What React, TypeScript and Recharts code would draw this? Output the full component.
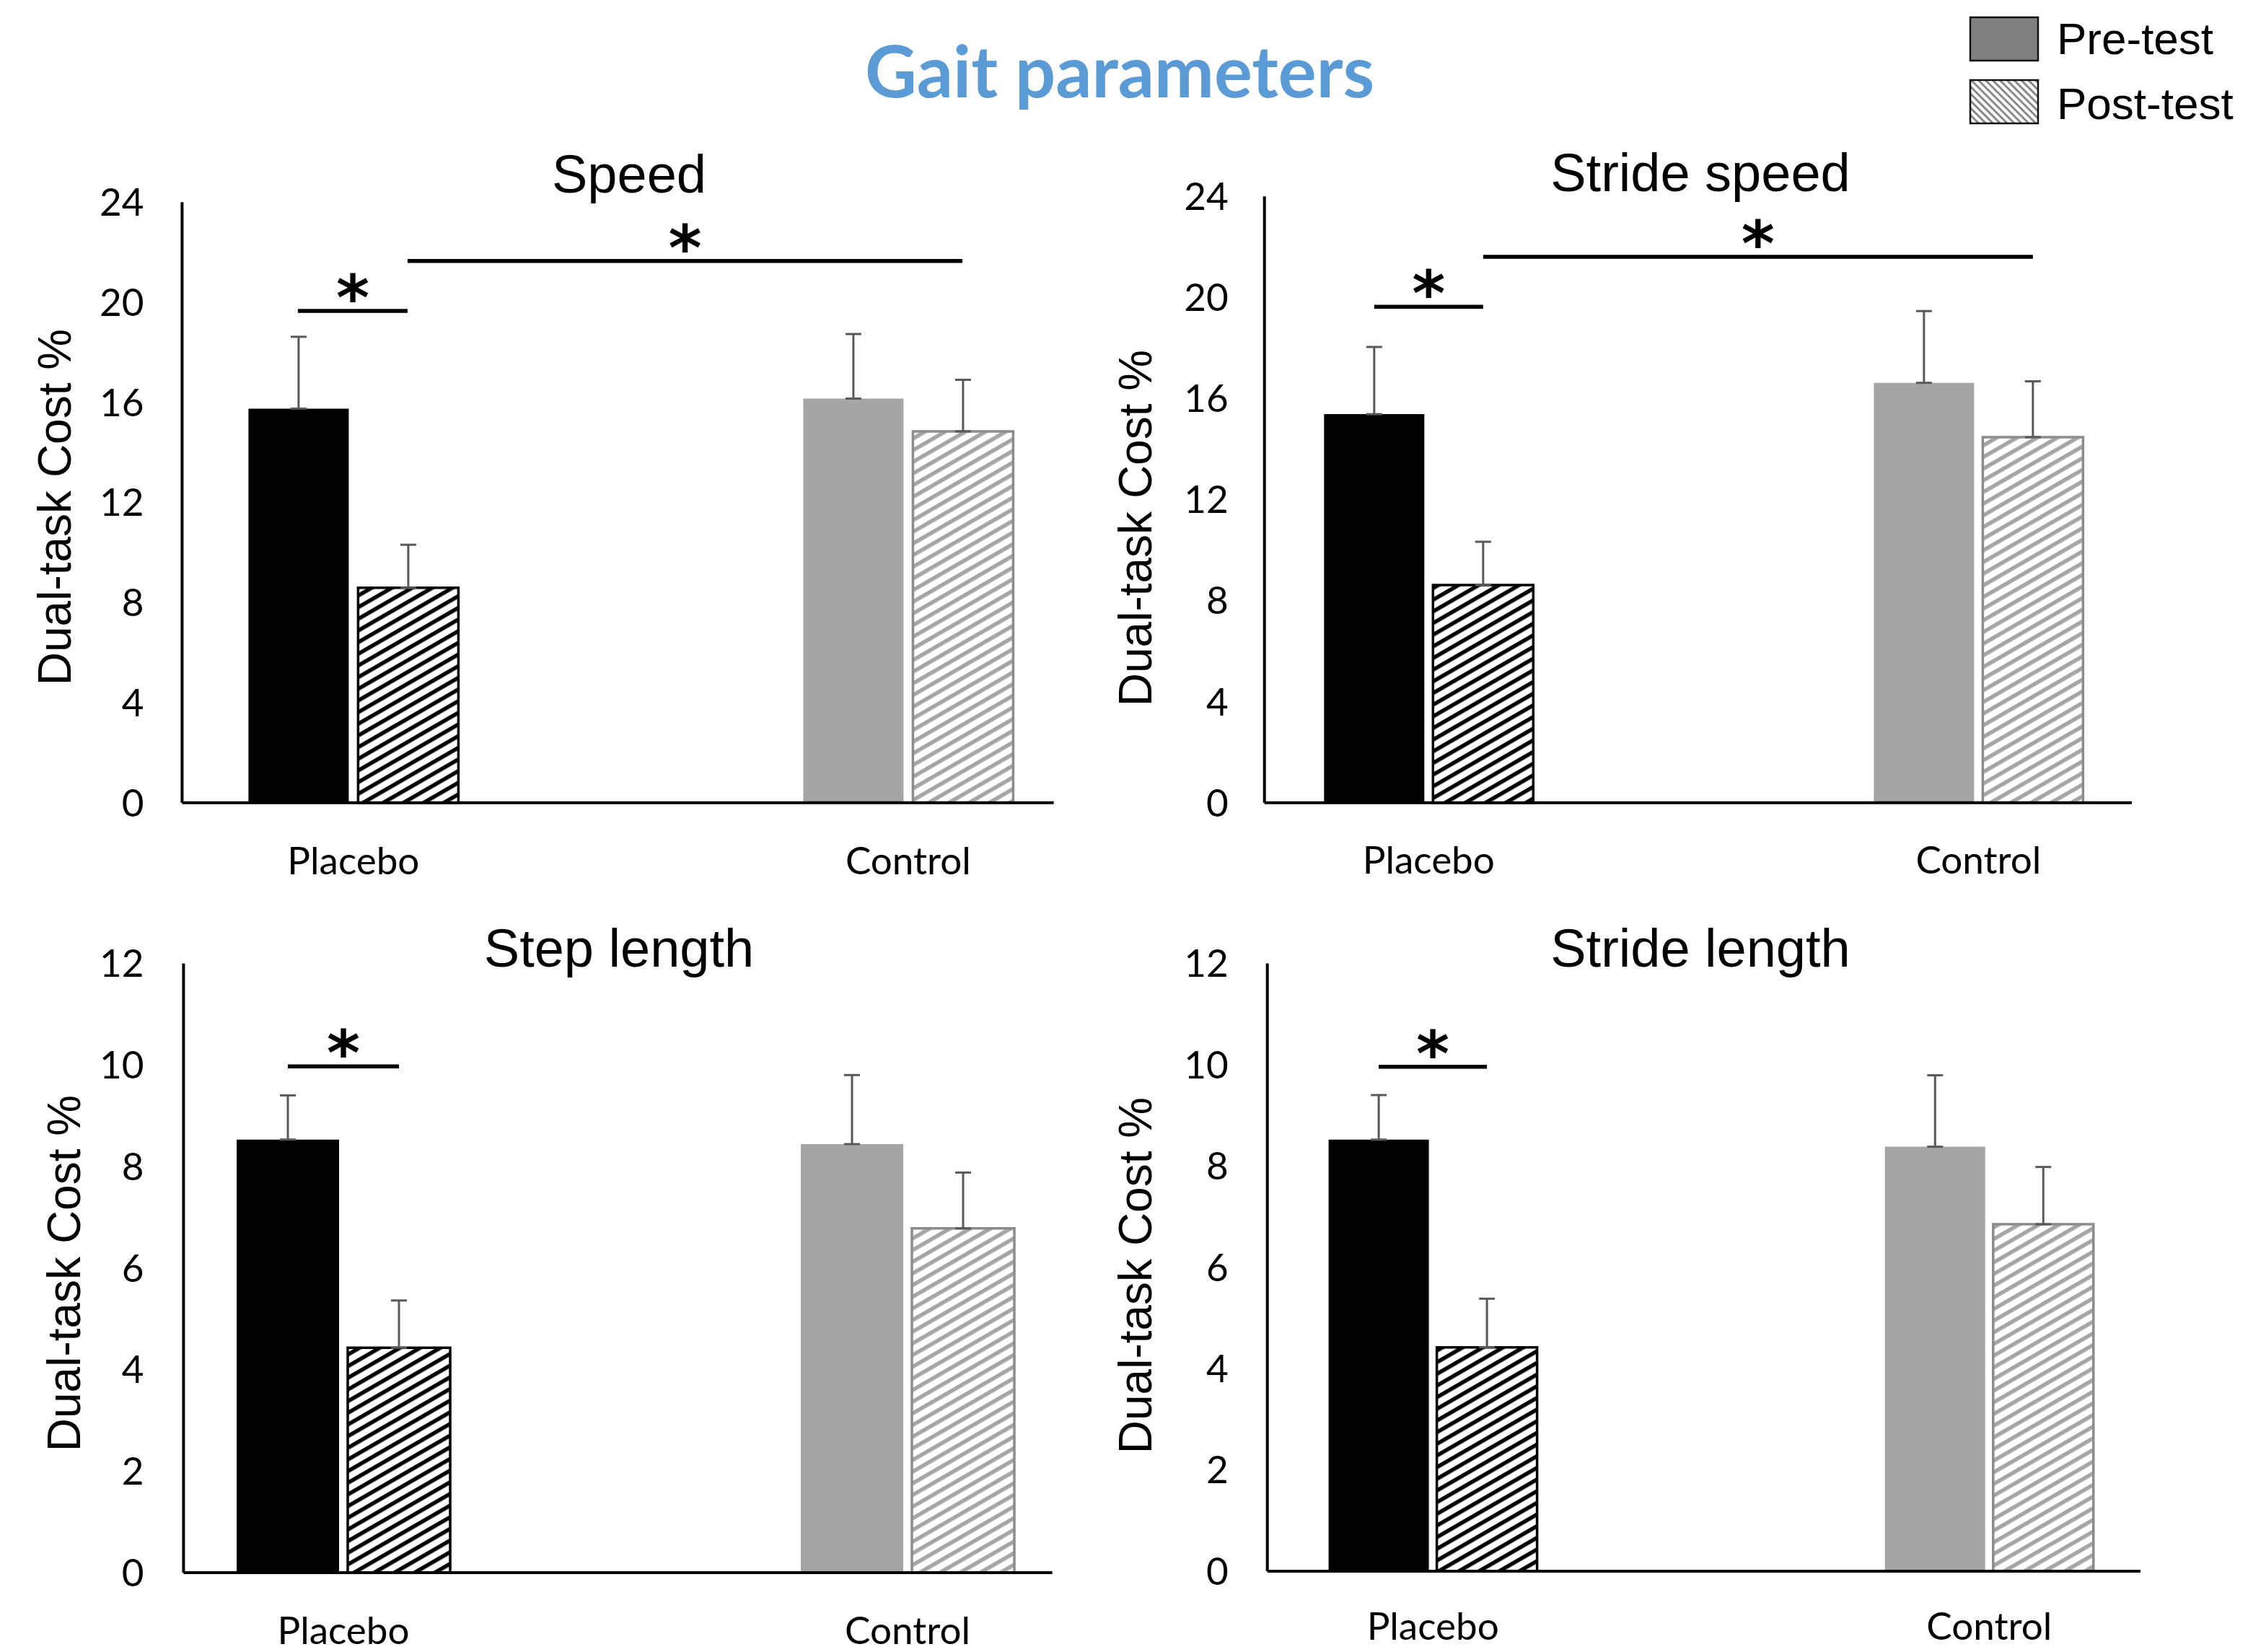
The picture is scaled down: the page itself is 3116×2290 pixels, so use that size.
import React from 'react';
import { BarChart, Bar, XAxis, YAxis, ErrorBar, Cell } from 'recharts';

const groups = ['Placebo', 'Control'];

// Speed
const speedPre = [15.75, 16.15];
const speedPreErr = [2.87, 2.58];
const speedPost = [8.59, 14.84];
const speedPostErr = [1.72, 2.06];

// Stride speed
const strideSpeedPre = [15.38, 16.62];
const strideSpeedPreErr = [2.66, 2.84];
const strideSpeedPost = [8.62, 14.47];
const strideSpeedPostErr = [1.71, 2.21];

// Step length
const stepLengthPre = [8.53, 8.44];
const stepLengthPreErr = [0.87, 1.36];
const stepLengthPost = [4.43, 6.78];
const stepLengthPostErr = [0.93, 1.1];

// Stride length
const strideLengthPre = [8.52, 8.38];
const strideLengthPreErr = [0.88, 1.41];
const strideLengthPost = [4.42, 6.85];
const strideLengthPostErr = [0.96, 1.13];

const speedTicks = [0, 4, 8, 12, 16, 20, 24];
const lengthTicks = [0, 2, 4, 6, 8, 10, 12];

// significance brackets: [group, series] -> [group, series] at height y
const speedSig = [
  { from: [0, 0], to: [0, 1], y: 19.65 },
  { from: [0, 1], to: [1, 1], y: 21.65 },
];
const strideSpeedSig = [
  { from: [0, 0], to: [0, 1], y: 19.63 },
  { from: [0, 1], to: [1, 1], y: 21.61 },
];
const stepLengthSig = [{ from: [0, 0], to: [0, 1], y: 9.97 }];
const strideLengthSig = [{ from: [0, 0], to: [0, 1], y: 9.96 }];

const preFill = ['#000000', '#A5A5A5'];
const postFill = ['url(#hatchBlack)', 'url(#hatchGray)'];
const postStroke = ['#000000', '#8C8C8C'];

const makeRows = (pre: number[], preErr: number[], post: number[], postErr: number[]) =>
  groups.map((name, i) => ({
    name,
    pre: pre[i],
    post: post[i],
    preErr: [0, preErr[i]],
    postErr: [0, postErr[i]],
  }));

const panels = [
  {
    title: 'Speed', rows: makeRows(speedPre, speedPreErr, speedPost, speedPostErr),
    ticks: speedTicks, sig: speedSig,
    left: 252.4, top: 280.2, right: 1460.6, bottom: 1112.8, padL: -147, padR: -182.8,
    barSize: 139, barGap: 13, tickGap: 53, catMargin: 62, box: [0, 220, 1540, 1080],
    labelX: 76, labelY: 703, titleX: 872, titleY: 267,
  },
  {
    title: 'Stride speed', rows: makeRows(strideSpeedPre, strideSpeedPreErr, strideSpeedPost, strideSpeedPostErr),
    ticks: speedTicks, sig: strideSpeedSig,
    left: 1752.7, top: 272.2, right: 2954.9, bottom: 1112.8, padL: -153.4, padR: -168.5,
    barSize: 139, barGap: 12, tickGap: 50, catMargin: 61, box: [1500, 220, 1600, 1080],
    labelX: 1574, labelY: 732, titleX: 2357, titleY: 265,
  },
  {
    title: 'Step length', rows: makeRows(stepLengthPre, stepLengthPreErr, stepLengthPost, stepLengthPostErr),
    ticks: lengthTicks, sig: stepLengthSig,
    left: 254.4, top: 1335.4, right: 1458.6, bottom: 2180, padL: -169.4, padR: -190.4,
    barSize: 142, barGap: 12, tickGap: 55, catMargin: 61, box: [0, 1280, 1540, 1010],
    labelX: 89, labelY: 1765, titleX: 858, titleY: 1340,
  },
  {
    title: 'Stride length', rows: makeRows(strideLengthPre, strideLengthPreErr, strideLengthPost, strideLengthPostErr),
    ticks: lengthTicks, sig: strideLengthSig,
    left: 1756.7, top: 1335.4, right: 2966.9, bottom: 2178, padL: -156.1, padR: -176,
    barSize: 139, barGap: 11, tickGap: 54, catMargin: 57, box: [1500, 1280, 1600, 1010],
    labelX: 1574, labelY: 1768, titleX: 2357, titleY: 1340,
  },
];

type P = typeof panels[number];

const X_AXIS_H = 100;
const tickFont = { fontFamily: 'Lato', fontSize: 53, fill: '#000' };
const arial = 'Liberation Sans, Arial, sans-serif';

const barCenter = (p: P, g: number, s: number) => {
  const start = p.left + p.padL;
  const band = (p.right - p.padR - start) / 2;
  const off = Math.floor((band - (2 * p.barSize + p.barGap)) / 2);
  return start + g * band + off + s * (p.barSize + p.barGap) + p.barSize / 2;
};
const yPix = (p: P, v: number) =>
  p.bottom - (v / p.ticks[p.ticks.length - 1]) * (p.bottom - p.top);

const Panel = ({ p }: { p: P }) => {
  const [cx, cy, cw, ch] = p.box;
  const yMax = p.ticks[p.ticks.length - 1];
  return (
    <div style={{ position: 'absolute', left: cx, top: cy, width: cw, height: ch }}>
      <BarChart
        width={cw}
        height={ch}
        data={p.rows}
        barSize={p.barSize}
        barGap={p.barGap}
        margin={{ top: p.top - cy, left: 0, right: cx + cw - p.right, bottom: cy + ch - p.bottom - X_AXIS_H }}
      >
        <XAxis
          dataKey="name"
          height={X_AXIS_H}
          padding={{ left: p.padL, right: p.padR }}
          axisLine={{ stroke: '#000', strokeWidth: 4 }}
          tickLine={false}
          tickSize={0}
          tickMargin={p.catMargin}
          interval={0}
          tick={tickFont}
        />
        <YAxis
          width={p.left - cx}
          domain={[0, yMax]}
          ticks={p.ticks}
          axisLine={{ stroke: '#000', strokeWidth: 4 }}
          tickLine={false}
          tickSize={0}
          tickMargin={p.tickGap}
          tick={tickFont}
        />
        <Bar dataKey="pre" isAnimationActive={false}>
          {p.rows.map((r, i) => (
            <Cell key={r.name} fill={preFill[i]} />
          ))}
          <ErrorBar dataKey="preErr" direction="y" width={11} stroke="#595959" strokeWidth={3} />
        </Bar>
        <Bar dataKey="post" isAnimationActive={false}>
          {p.rows.map((r, i) => (
            <Cell key={r.name} fill={postFill[i]} stroke={postStroke[i]} strokeWidth={3.5} />
          ))}
          <ErrorBar dataKey="postErr" direction="y" width={11} stroke="#595959" strokeWidth={3} />
        </Bar>
      </BarChart>
    </div>
  );
};

const Overlay = () => (
  <svg
    width={3116}
    height={2290}
    style={{ position: 'absolute', left: 0, top: 0, pointerEvents: 'none' }}
  >
    <text x={1552} y={135} textAnchor="middle" fontFamily="Lato" fontWeight={700} fontSize={99} fill="#5B9BD5">
      Gait parameters
    </text>
    <rect x={2731} y={24} width={94} height={60} fill="#808080" stroke="#111" strokeWidth={2.5} />
    <rect x={2731} y={111} width={94} height={60} fill="url(#hatchLegend)" stroke="#111" strokeWidth={2.5} />
    <text x={2851} y={75} fontFamily={arial} fontSize={62} fill="#000">Pre-test</text>
    <text x={2851} y={165} fontFamily={arial} fontSize={62} fill="#000">Post-test</text>
    {panels.map((p) => (
      <g key={p.title}>
        <text x={p.titleX} y={p.titleY} textAnchor="middle" fontFamily={arial} fontSize={74} fill="#000">
          {p.title}
        </text>
        <text
          x={p.labelX}
          y={p.labelY}
          textAnchor="middle"
          dominantBaseline="central"
          transform={`rotate(-90 ${p.labelX} ${p.labelY})`}
          fontFamily={arial}
          fontSize={64}
          fill="#000"
        >
          Dual-task Cost %
        </text>
        {p.sig.map((s, k) => {
          const x1 = barCenter(p, s.from[0], s.from[1]);
          const x2 = barCenter(p, s.to[0], s.to[1]);
          const y = yPix(p, s.y);
          return (
            <g key={k}>
              <line x1={x1} x2={x2} y1={y} y2={y} stroke="#000" strokeWidth={5.5} />
              <text
                x={(x1 + x2) / 2}
                y={y + 12}
                textAnchor="middle"
                fontFamily="DejaVu Sans"
                fontWeight={700}
                fontSize={88}
                fill="#000"
              >
                *
              </text>
            </g>
          );
        })}
      </g>
    ))}
  </svg>
);

const App = () => (
  <div style={{ position: 'absolute', left: 0, top: 0, width: 3116, height: 2290, background: '#fff' }}>
    <svg width={0} height={0} style={{ position: 'absolute' }}>
      <defs>
        <pattern id="hatchBlack" patternUnits="userSpaceOnUse" width={14} height={14} patternTransform="rotate(-30)">
          <rect width={14} height={14} fill="#fff" />
          <rect width={14} height={5.5} fill="#000" />
        </pattern>
        <pattern id="hatchGray" patternUnits="userSpaceOnUse" width={14} height={14} patternTransform="rotate(-30)">
          <rect width={14} height={14} fill="#fff" />
          <rect width={14} height={5.5} fill="#A5A5A5" />
        </pattern>
        <pattern id="hatchLegend" patternUnits="userSpaceOnUse" width={7} height={7} patternTransform="rotate(45)">
          <rect width={7} height={7} fill="#fff" />
          <rect width={7} height={3} fill="#8A8A8A" />
        </pattern>
      </defs>
    </svg>
    {panels.map((p) => (
      <Panel key={p.title} p={p} />
    ))}
    <Overlay />
  </div>
);

export default App;
